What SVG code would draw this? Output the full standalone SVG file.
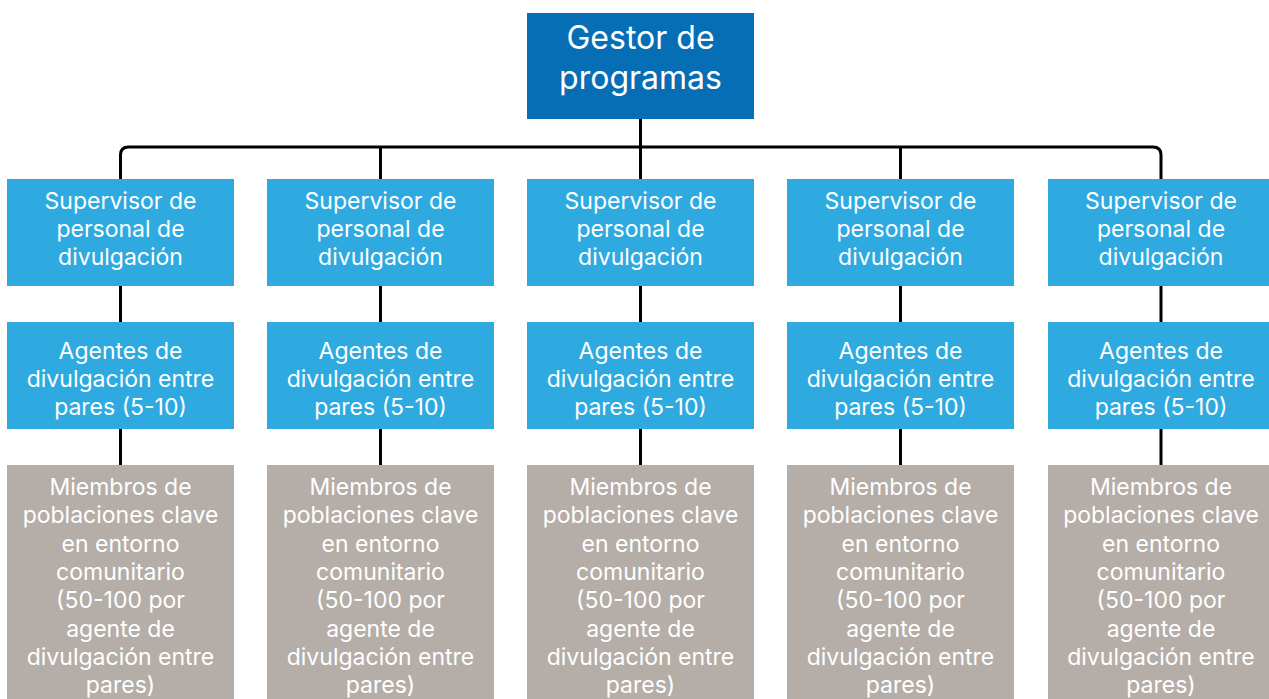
<svg xmlns="http://www.w3.org/2000/svg" width="1269" height="699" viewBox="0 0 1269 699">
<style>
.top{fill:#056EB4}
.sup{fill:#2EAAE1}
.mem{fill:#B5ADA7}
text{font-family:Inter,"Open Sans","Liberation Sans",sans-serif;fill:#fff;text-anchor:middle}
.t1{font-size:32px}
.t2{font-size:23px}
.con{fill:none;stroke:#000;stroke-width:3}
</style>
<rect width="1269" height="699" fill="#fff"/>
<g id="connectors">
<path class="con" d="M640.5,119 V179"/>
<path class="con" d="M120.5,179 V155 Q120.5,147 128.5,147 H1153 Q1161,147 1161,155 V179"/>
<path class="con" d="M380.5,147 V179 M900.5,147 V179"/>
<path class="con" d="M120.5,286 V322 M380.5,286 V322 M640.5,286 V322 M900.5,286 V322 M1161,286 V322"/>
<path class="con" d="M120.5,429 V465 M380.5,429 V465 M640.5,429 V465 M900.5,429 V465 M1161,429 V465"/>
</g>
<g id="gestor">
<rect class="top" x="527" y="13" width="227" height="106"/>
<text class="t1" x="640.5" y="49">Gestor de</text>
<text class="t1" x="640.5" y="89">programas</text>
</g>
<g id="sup1"><rect class="sup" x="7" y="179" width="227" height="107"/><text class="t2" x="120.5" y="208.5">Supervisor de</text><text class="t2" x="120.5" y="236.5">personal de</text><text class="t2" x="120.5" y="264.5">divulgación</text></g>
<g id="sup2"><rect class="sup" x="267" y="179" width="227" height="107"/><text class="t2" x="380.5" y="208.5">Supervisor de</text><text class="t2" x="380.5" y="236.5">personal de</text><text class="t2" x="380.5" y="264.5">divulgación</text></g>
<g id="sup3"><rect class="sup" x="527" y="179" width="227" height="107"/><text class="t2" x="640.5" y="208.5">Supervisor de</text><text class="t2" x="640.5" y="236.5">personal de</text><text class="t2" x="640.5" y="264.5">divulgación</text></g>
<g id="sup4"><rect class="sup" x="787" y="179" width="227" height="107"/><text class="t2" x="900.5" y="208.5">Supervisor de</text><text class="t2" x="900.5" y="236.5">personal de</text><text class="t2" x="900.5" y="264.5">divulgación</text></g>
<g id="sup5"><rect class="sup" x="1048" y="179" width="227" height="107"/><text class="t2" x="1161" y="208.5">Supervisor de</text><text class="t2" x="1161" y="236.5">personal de</text><text class="t2" x="1161" y="264.5">divulgación</text></g>
<g id="age1"><rect class="sup" x="7" y="322" width="227" height="107"/><text class="t2" x="120.5" y="358.5">Agentes de</text><text class="t2" x="120.5" y="386.5">divulgación entre</text><text class="t2" x="120.5" y="414.5">pares (5-10)</text></g>
<g id="age2"><rect class="sup" x="267" y="322" width="227" height="107"/><text class="t2" x="380.5" y="358.5">Agentes de</text><text class="t2" x="380.5" y="386.5">divulgación entre</text><text class="t2" x="380.5" y="414.5">pares (5-10)</text></g>
<g id="age3"><rect class="sup" x="527" y="322" width="227" height="107"/><text class="t2" x="640.5" y="358.5">Agentes de</text><text class="t2" x="640.5" y="386.5">divulgación entre</text><text class="t2" x="640.5" y="414.5">pares (5-10)</text></g>
<g id="age4"><rect class="sup" x="787" y="322" width="227" height="107"/><text class="t2" x="900.5" y="358.5">Agentes de</text><text class="t2" x="900.5" y="386.5">divulgación entre</text><text class="t2" x="900.5" y="414.5">pares (5-10)</text></g>
<g id="age5"><rect class="sup" x="1048" y="322" width="227" height="107"/><text class="t2" x="1161" y="358.5">Agentes de</text><text class="t2" x="1161" y="386.5">divulgación entre</text><text class="t2" x="1161" y="414.5">pares (5-10)</text></g>
<g id="mem1"><rect class="mem" x="7" y="465" width="227" height="240"/><text class="t2" x="120.5" y="495">Miembros de</text><text class="t2" x="120.5" y="523.3">poblaciones clave</text><text class="t2" x="120.5" y="551.6">en entorno</text><text class="t2" x="120.5" y="579.9">comunitario</text><text class="t2" x="120.5" y="608.2">(50-100 por</text><text class="t2" x="120.5" y="636.5">agente de</text><text class="t2" x="120.5" y="664.8">divulgación entre</text><text class="t2" x="120.5" y="693.1">pares)</text></g>
<g id="mem2"><rect class="mem" x="267" y="465" width="227" height="240"/><text class="t2" x="380.5" y="495">Miembros de</text><text class="t2" x="380.5" y="523.3">poblaciones clave</text><text class="t2" x="380.5" y="551.6">en entorno</text><text class="t2" x="380.5" y="579.9">comunitario</text><text class="t2" x="380.5" y="608.2">(50-100 por</text><text class="t2" x="380.5" y="636.5">agente de</text><text class="t2" x="380.5" y="664.8">divulgación entre</text><text class="t2" x="380.5" y="693.1">pares)</text></g>
<g id="mem3"><rect class="mem" x="527" y="465" width="227" height="240"/><text class="t2" x="640.5" y="495">Miembros de</text><text class="t2" x="640.5" y="523.3">poblaciones clave</text><text class="t2" x="640.5" y="551.6">en entorno</text><text class="t2" x="640.5" y="579.9">comunitario</text><text class="t2" x="640.5" y="608.2">(50-100 por</text><text class="t2" x="640.5" y="636.5">agente de</text><text class="t2" x="640.5" y="664.8">divulgación entre</text><text class="t2" x="640.5" y="693.1">pares)</text></g>
<g id="mem4"><rect class="mem" x="787" y="465" width="227" height="240"/><text class="t2" x="900.5" y="495">Miembros de</text><text class="t2" x="900.5" y="523.3">poblaciones clave</text><text class="t2" x="900.5" y="551.6">en entorno</text><text class="t2" x="900.5" y="579.9">comunitario</text><text class="t2" x="900.5" y="608.2">(50-100 por</text><text class="t2" x="900.5" y="636.5">agente de</text><text class="t2" x="900.5" y="664.8">divulgación entre</text><text class="t2" x="900.5" y="693.1">pares)</text></g>
<g id="mem5"><rect class="mem" x="1048" y="465" width="227" height="240"/><text class="t2" x="1161" y="495">Miembros de</text><text class="t2" x="1161" y="523.3">poblaciones clave</text><text class="t2" x="1161" y="551.6">en entorno</text><text class="t2" x="1161" y="579.9">comunitario</text><text class="t2" x="1161" y="608.2">(50-100 por</text><text class="t2" x="1161" y="636.5">agente de</text><text class="t2" x="1161" y="664.8">divulgación entre</text><text class="t2" x="1161" y="693.1">pares)</text></g>
</svg>
